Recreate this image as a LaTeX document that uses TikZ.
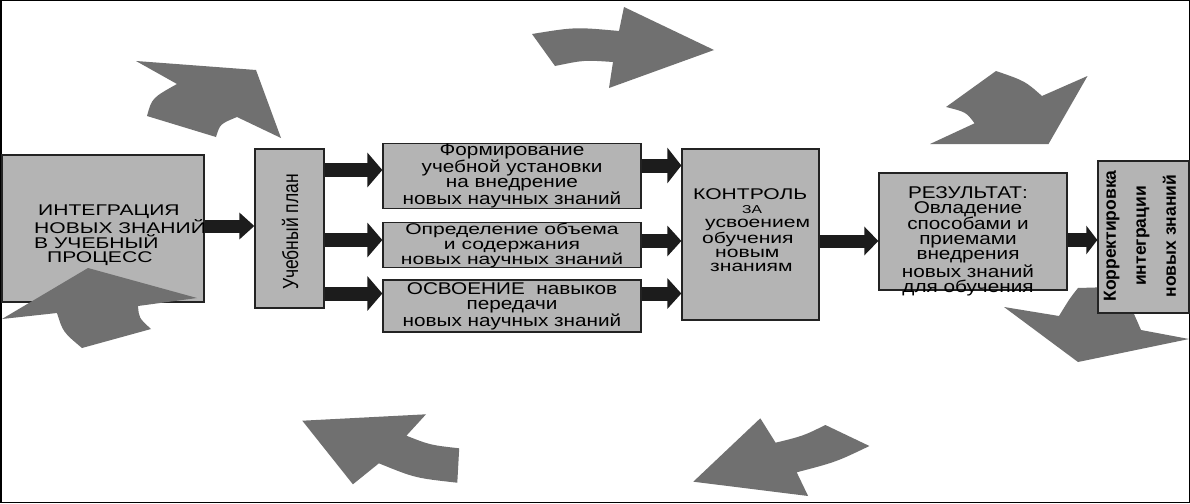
\documentclass[tikz,border=0pt]{standalone}
\usepackage{fontspec}
\setmainfont{Liberation Sans}[FakeStretch=1.22]
\newfontfamily\widefont{Liberation Sans}[FakeStretch=1.36]
\newfontfamily\rotfont{Liberation Sans}
\usetikzlibrary{arrows.meta}
\definecolor{boxfill}{RGB}{180,180,180}
\definecolor{boxline}{RGB}{35,35,35}
\definecolor{arrdark}{RGB}{28,28,28}
\definecolor{arrgray}{RGB}{112,112,112}
\begin{document}
\begin{tikzpicture}[x=1pt,y=-1pt,
  box/.style={draw=boxline, fill=boxfill, line width=1.3pt, inner sep=0pt, align=center},
  txt/.style={inner sep=0pt, align=center, font=\fontsize{17}{15}\selectfont},
  darr/.style={draw=arrdark, line width=14pt, -{Triangle[length=15pt,width=34pt]}},
  garr/.style={fill=arrgray}]
\useasboundingbox (0,0) rectangle (1190,503);
\fill[white] (0,0) rectangle (1190,503);
\draw[line width=1.5pt] (0.75,0.75) rectangle (1189.25,502.25);

% gray arrow behind the last box
\fill[garr] (1078,288) .. controls (1070,298) .. (1059,316) -- (1004,307) -- (1078,362) -- (1189,339) -- (1141,330) .. controls (1128,300) .. (1112,287) -- cycle;

% boxes
\node[box, minimum width=202pt, minimum height=147pt] (b1) at (103,228.5) {};
\node[box, minimum width=69pt, minimum height=159pt] (b2) at (289.5,228.5) {};
\node[box, minimum width=258pt, minimum height=64pt, font=\fontsize{17}{15.2}\selectfont] (b3) at (512,176)
  {Формирование\\учебной установки\\на внедрение\\новых научных знаний};
\node[box, minimum width=258pt, minimum height=44pt, font=\widefont\fontsize{15.5}{15}\selectfont] (b4) at (512,245)
  {Определение объема\\и содержания\hspace*{30pt}\\новых научных знаний};
\node[box, minimum width=258pt, minimum height=52pt, font=\fontsize{17}{15}\selectfont] (b5) at (512,306)
  {ОСВОЕНИЕ\ \ навыков\\передачи\\новых научных знаний};
\node[box, minimum width=137pt, minimum height=171pt] (b6) at (750.5,234.5) {};
\node[box, minimum width=188pt, minimum height=117pt] (b7) at (973,231.5) {};
\node[box, minimum width=91pt, minimum height=152pt] (b8) at (1143.5,237) {};

% texts
\node[txt, align=left, anchor=north west, font=\widefont\fontsize{15.5}{14.6}\selectfont] (t1) at (34,204.5)
  {\hspace*{4pt}ИНТЕГРАЦИЯ\\НОВЫХ ЗНАНИЙ\\В УЧЕБНЫЙ\\\hspace*{13pt}ПРОЦЕСС};
\node[rotate=90, inner sep=0pt, font=\rotfont\fontsize{17.5}{17}\selectfont] (t2) at (290,232) {\scalebox{1}[1.25]{Учебный план}};
\node[txt, align=left, anchor=north west, font=\widefont\fontsize{15.5}{14}\selectfont] (t6) at (693,188.5)
  {КОНТРОЛЬ\\\hspace*{49pt}{\fontsize{11.5}{14}\selectfont ЗА}\\\hspace*{12pt}усвоением\\\hspace*{9pt}обучения\\\hspace*{22pt}новым\\\hspace*{17pt}знаниям};
\node[txt, anchor=north, font=\fontsize{17}{15}\selectfont] (t7) at (968,186)
  {РЕЗУЛЬТАТ:\\Овладение\\способами и\\приемами\\внедрения\\новых знаний\\для обучения};
\node[rotate=90, inner sep=0pt, align=center, font=\rotfont\bfseries\fontsize{17.5}{30}\selectfont] (t8) at (1140,236)
  {Корректировка\\интеграции\\новых знаний};

% gray cycle arrows
\fill[garr] (136,61) -- (256,70) -- (281,138) -- (237,117) .. controls (220,124) .. (216,137) -- (147,116) .. controls (152,98) .. (177,84) -- cycle;
\fill[garr] (624,7) -- (714,50) -- (609,88) -- (613,62) .. controls (584,60) .. (555,66) -- (532,34) .. controls (575,27) .. (619,31) -- cycle;
\fill[garr] (996,71) .. controls (1025,81) .. (1042,96) -- (1087.5,76) -- (1048.5,144) -- (930,144) -- (974.6,123.3) .. controls (966,112) .. (946,107) -- cycle;
\fill[garr] (825.4,425) .. controls (803,436) .. (775.6,442.7) -- (760.3,418.3) -- (693.3,481.7) -- (808.1,496) -- (796.7,472.3) .. controls (836,462) .. (869.4,446) -- cycle;
\fill[garr] (302.3,420.7) -- (426,414.3) -- (406.4,435.7) .. controls (430,445) .. (459.2,448.3) -- (457.3,482.7) .. controls (415,478) .. (378.9,463.3) -- (352.9,484.3) -- cycle;
\fill[garr] (88,268) -- (197,298) -- (138,306) .. controls (139,318) .. (151,329) -- (82,348) .. controls (63,332) .. (57,313) -- (2,319) -- cycle;

% dark connectors
\coordinate (r0) at (0,226);
\coordinate (r1) at (0,170);
\coordinate (r1b) at (0,165.5);
\coordinate (r2) at (0,240);
\coordinate (r2b) at (0,241);
\coordinate (r3) at (0,293.5);
\draw[darr, line width=13pt, -{Triangle[length=15pt,width=26pt]}] (b1.east |- r0) -- (b2.west |- r0);
\draw[darr] (b2.east |- r1) -- (b3.west |- r1);
\draw[darr] (b2.east |- r2) -- (b4.west |- r2);
\draw[darr] (b2.east |- r3) -- (b5.west |- r3);
\draw[darr, -{Triangle[length=14pt,width=35pt]}] (b3.east |- r1b) -- (b6.west |- r1b);
\draw[darr, -{Triangle[length=14pt,width=30pt]}] (b4.east |- r2b) -- (b6.west |- r2b);
\draw[darr, -{Triangle[length=14pt,width=30pt]}] (b5.east |- r3) -- (b6.west |- r3);
\draw[darr, line width=13pt, -{Triangle[length=14pt,width=28pt]}] (b6.east |- r2b) -- (b7.west |- r2b);
\draw[darr, line width=14pt, -{Triangle[length=11pt,width=28pt]}] (b7.east |- r2) -- (b8.west |- r2);
\end{tikzpicture}
\end{document}
